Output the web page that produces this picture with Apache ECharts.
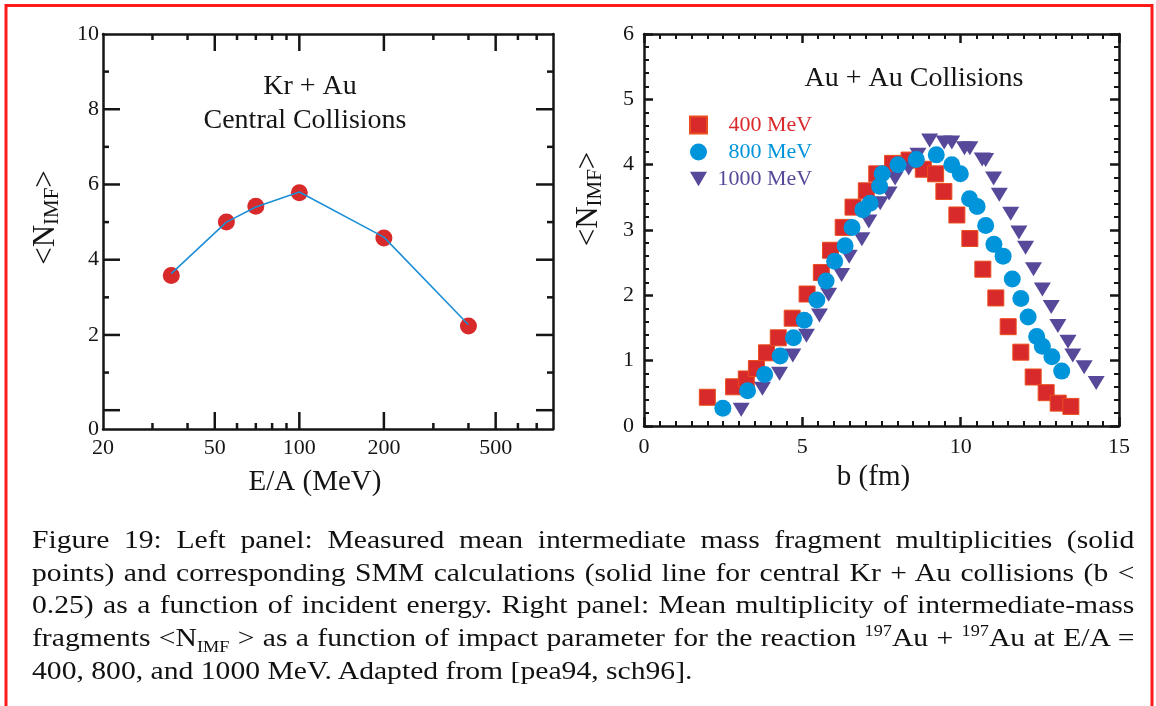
<!DOCTYPE html>
<html><head><meta charset="utf-8">
<script src="https://cdn.jsdelivr.net/npm/echarts@6/dist/echarts.min.js"></script>
<style>
html,body{margin:0;padding:0;background:#fff;}
#chart{position:absolute;left:0;top:0;width:1156px;height:706px;}
#caption{position:absolute;left:32px;top:524px;width:967px;transform:scaleX(1.14);transform-origin:0 0;font-family:'Liberation Serif','Times New Roman',serif;font-size:26px;line-height:32.7px;color:#111;}
#caption .j{text-align:justify;text-align-last:justify;white-space:nowrap;height:32.7px;}
#caption .n{text-align:left;white-space:nowrap;height:32.7px;}
#caption sub,#caption sup{font-size:16px;line-height:0;}
</style>
</head><body>
<div id="chart"></div>
<div id="caption">
<div class="j">Figure 19: Left panel: Measured mean intermediate mass fragment multiplicities (solid</div>
<div class="j">points) and corresponding SMM calculations (solid line for central Kr + Au collisions (b &lt;</div>
<div class="j">0.25) as a function of incident energy. Right panel: Mean multiplicity of intermediate-mass</div>
<div class="j">fragments &lt;N<sub>IMF</sub> &gt; as a function of impact parameter for the reaction <sup>197</sup>Au + <sup>197</sup>Au at E/A =</div>
<div class="n">400, 800, and 1000 MeV. Adapted from [pea94, sch96].</div>
</div>
<script>
// ---- Left panel data (Kr + Au central collisions) ----
const energy = [35, 55, 70, 100, 200, 400];
const measured = [3.58, 5.0, 5.42, 5.78, 4.58, 2.24];
const smmCalc = [3.63, 5.0, 5.40, 5.80, 4.60, 2.27];
const energyLabels = [20, 50, 100, 200, 500];
const energyMajor = [50, 100, 200, 500];
const energyMinor = [30, 40, 60, 70, 80, 90, 300, 400, 600, 700];
const leftYLabels = [-0.5, 2, 4, 6, 8, 10];
const leftYMajor = [0, 2, 4, 6, 8];
const leftYMinor = [1, 3, 5, 7, 9];

// ---- Right panel data (Au + Au collisions) ----
const b400 = [2.0, 2.83, 3.23, 3.55, 3.87, 4.24, 4.68, 5.15, 5.60, 5.89, 6.29, 6.60, 7.02, 7.35, 7.85, 8.37, 8.82, 9.21, 9.47, 9.88, 10.29, 10.70, 11.11, 11.50, 11.90, 12.29, 12.70, 13.08, 13.48];
const n400 = [0.44, 0.60, 0.72, 0.88, 1.12, 1.35, 1.65, 2.02, 2.35, 2.69, 3.04, 3.35, 3.60, 3.86, 4.02, 4.07, 3.93, 3.86, 3.59, 3.23, 2.87, 2.40, 1.96, 1.52, 1.13, 0.75, 0.51, 0.35, 0.30];
const b800 = [2.49, 3.27, 3.81, 4.30, 4.72, 5.06, 5.46, 5.75, 6.02, 6.35, 6.57, 6.91, 7.14, 7.44, 7.52, 8.02, 8.60, 9.23, 9.72, 9.99, 10.28, 10.52, 10.79, 11.05, 11.34, 11.63, 11.90, 12.13, 12.40, 12.58, 12.88, 13.19];
const n800 = [0.27, 0.54, 0.79, 1.07, 1.35, 1.62, 1.93, 2.22, 2.52, 2.76, 3.04, 3.31, 3.41, 3.67, 3.86, 4.00, 4.08, 4.15, 4.00, 3.86, 3.48, 3.36, 3.07, 2.78, 2.60, 2.25, 1.95, 1.67, 1.37, 1.22, 1.06, 0.84];
const b1000 = [3.07, 3.74, 4.28, 4.70, 5.13, 5.54, 5.83, 6.24, 6.48, 6.88, 7.10, 7.46, 7.74, 7.93, 8.36, 8.65, 9.02, 9.48, 9.72, 10.12, 10.29, 10.68, 10.79, 11.04, 11.22, 11.58, 11.84, 12.05, 12.30, 12.58, 12.86, 13.07, 13.39, 13.54, 13.90, 14.28];
const n1000 = [0.25, 0.57, 0.80, 1.08, 1.38, 1.69, 2.01, 2.31, 2.59, 2.86, 3.13, 3.41, 3.56, 3.79, 3.94, 4.15, 4.37, 4.34, 4.34, 4.25, 4.25, 4.08, 4.07, 3.79, 3.54, 3.25, 2.96, 2.73, 2.40, 2.09, 1.82, 1.53, 1.29, 1.08, 0.90, 0.66];
const seriesNames = ['400 MeV', '800 MeV', '1000 MeV'];

const FONT = "'Liberation Serif', 'Times New Roman', serif";
const INK = '#151515';
const RED = '#d8292b', BLUE = '#0094db', PURPLE = '#58489a', LINE = '#1c8fd6';
const pair = (xs, ys) => xs.map((x, i) => [x, ys[i]]);
const lineStyle = {color: INK, width: 2.5};
const tickStyle = {color: INK, width: 2.5};
const E_MIN = 20, E_MAX = 800, LY_MIN = -0.5, LY_MAX = 10;
const MAJOR = 17, MINOR = 6;
const LEFT_GRID = {left: 103, top: 34, width: 450, height: 395};

function logAxis(pos, labels, extra) {
  return Object.assign({
    gridIndex: 0, type: 'log', min: E_MIN, max: E_MAX, position: pos,
    axisLine: {show: true, onZero: false, lineStyle: lineStyle},
    axisTick: {show: false},
    axisLabel: labels ? {show: true, customValues: labels, fontSize: 22, fontFamily: FONT, color: INK, margin: 8} : {show: false},
    splitLine: {show: false}, minorTick: {show: false}, minorSplitLine: {show: false}
  }, extra || {});
}
function leftY(pos, labels, extra) {
  return Object.assign({
    gridIndex: 0, type: 'value', min: LY_MIN, max: LY_MAX, position: pos,
    axisLine: {show: true, onZero: false, lineStyle: lineStyle},
    axisTick: {show: false},
    axisLabel: labels ? {show: true, customValues: labels, fontSize: 22, fontFamily: FONT, color: INK, margin: 4,
      formatter: v => (v < 0 ? '0' : String(v))} : {show: false},
    splitLine: {show: false}
  }, extra || {});
}
function rightX(pos, labels, extra) {
  return Object.assign({
    gridIndex: 1, type: 'value', min: 0, max: 15, interval: 5, position: pos,
    axisLine: {show: true, onZero: false, lineStyle: lineStyle},
    axisTick: {show: true, inside: true, length: 9, lineStyle: tickStyle},
    minorTick: {show: true, splitNumber: 10, length: 5, lineStyle: {color: INK, width: 2}},
    axisLabel: labels ? {show: true, fontSize: 22, fontFamily: FONT, color: INK, margin: 10} : {show: false},
    splitLine: {show: false}
  }, extra || {});
}
function rightY(pos, labels, extra) {
  return Object.assign({
    gridIndex: 1, type: 'value', min: 0, max: 6, interval: 1, position: pos,
    axisLine: {show: true, onZero: false, lineStyle: lineStyle},
    axisTick: {show: true, inside: true, length: 9, lineStyle: tickStyle},
    minorTick: {show: true, splitNumber: 5, length: 5, lineStyle: {color: INK, width: 2}},
    axisLabel: labels ? {show: true, fontSize: 22, fontFamily: FONT, color: INK, margin: 10} : {show: false},
    splitLine: {show: false}
  }, extra || {});
}
const nameRich = {s: {fontSize: 21, fontFamily: FONT, color: INK, padding: [13, 0, 0, 0]}};

const baseGraphics = [
  {type: 'rect', id: 'border', z: 100, silent: true, shape: {x: 6, y: 5.5, width: 1146, height: 760},
    style: {fill: 'none', stroke: '#ff1a1a', lineWidth: 3}},
  {type: 'text', id: 't1', x: 310, y: 87, style: {text: 'Kr + Au', fontSize: 28, fontFamily: FONT, fill: INK, align: 'center', verticalAlign: 'middle'}},
  {type: 'text', id: 't2', x: 305, y: 121, style: {text: 'Central Collisions', fontSize: 28, fontFamily: FONT, fill: INK, align: 'center', verticalAlign: 'middle'}},
  {type: 'text', id: 't3', x: 914, y: 79, style: {text: 'Au + Au Collisions', fontSize: 28, fontFamily: FONT, fill: INK, align: 'center', verticalAlign: 'middle'}}
];

const option = {
  animation: false,
  backgroundColor: '#ffffff',
  grid: [
    LEFT_GRID,
    {left: 644, top: 34, width: 475, height: 392}
  ],
  xAxis: [
    logAxis('bottom', energyLabels, {
      name: 'E/A (MeV)', nameLocation: 'middle', nameGap: 39,
      nameTextStyle: {fontSize: 29, fontFamily: FONT, color: INK, padding: [0, 26, 0, 0]}
    }),
    logAxis('top', null),
    rightX('bottom', true, {
      name: 'b (fm)', nameLocation: 'middle', nameGap: 33,
      nameTextStyle: {fontSize: 29, fontFamily: FONT, color: INK, padding: [0, 16, 0, 0]}
    }),
    rightX('top', false)
  ],
  yAxis: [
    leftY('left', leftYLabels, {
      name: '<N{s|IMF}>', nameLocation: 'middle', nameGap: 40, nameRotate: 90,
      nameTextStyle: {fontSize: 31, fontFamily: FONT, color: INK, rich: nameRich, padding: [0, 0, 0, 28]}
    }),
    leftY('right', null),
    rightY('left', true, {
      name: '<N{s|IMF}>', nameLocation: 'middle', nameGap: 38, nameRotate: 90,
      nameTextStyle: {fontSize: 31, fontFamily: FONT, color: INK, rich: nameRich, padding: [0, 0, 0, 62]}
    }),
    rightY('right', false)
  ],
  legend: {
    orient: 'vertical', left: 684, top: 109, itemWidth: 17, itemHeight: 17, itemGap: 5,
    selectedMode: false,
    textStyle: {fontSize: 22, fontFamily: FONT},
    formatter: n => (n === '1000 MeV' ? ' ' : '   ') + n,
    data: [
      {name: seriesNames[0], textStyle: {color: RED}},
      {name: seriesNames[1], textStyle: {color: BLUE}},
      {name: seriesNames[2], icon: 'path://M0,0 L20,0 L10,17 Z', textStyle: {color: PURPLE}}
    ]
  },
  series: [
    {type: 'scatter', name: 'measured', xAxisIndex: 0, yAxisIndex: 0, symbol: 'circle', symbolSize: 17,
      itemStyle: {color: RED, opacity: 1}, data: pair(energy, measured), z: 3},
    {type: 'line', name: 'SMM', xAxisIndex: 0, yAxisIndex: 0, showSymbol: false, symbol: 'none',
      lineStyle: {color: LINE, width: 1.6}, data: pair(energy, smmCalc), z: 5},
    {type: 'scatter', name: seriesNames[0], xAxisIndex: 2, yAxisIndex: 2, symbol: 'rect', symbolSize: 16,
      itemStyle: {color: RED, borderColor: '#ea4d1e', borderWidth: 1, opacity: 1}, data: pair(b400, n400), z: 3},
    {type: 'scatter', name: seriesNames[2], xAxisIndex: 2, yAxisIndex: 2, symbol: 'triangle', symbolRotate: 180,
      symbolSize: [17, 14], itemStyle: {color: PURPLE, opacity: 1}, data: pair(b1000, n1000), z: 4},
    {type: 'scatter', name: seriesNames[1], xAxisIndex: 2, yAxisIndex: 2, symbol: 'circle', symbolSize: 17,
      itemStyle: {color: BLUE, opacity: 1}, data: pair(b800, n800), z: 5}
  ],
  graphic: baseGraphics
};
const chart = echarts.init(document.getElementById('chart'));
chart.setOption(option);

// Left-panel tick marks, placed through the panel's own log / value scales (inward on all four sides)
function addLeftTicks() {
  const num = r => (Array.isArray(r) ? r[0] : r);
  const px = v => Number(num(chart.convertToPixel({xAxisIndex: 0}, v)));
  const py = v => Number(chart.convertToPixel({yAxisIndex: 0}, v));
  const ok = n => typeof n === 'number' && isFinite(n);
  // edges of the left frame derived from interior scale positions (linear y axis)
  const y0 = py(0), y1 = py(1), y8 = py(8), y9 = py(9);
  let yb = y0 + (y0 - y1) * 0.5;
  let yt = y9 + (y9 - y8);
  if (!ok(yb)) yb = LEFT_GRID.top + LEFT_GRID.height;
  if (!ok(yt)) yt = LEFT_GRID.top;
  let xl = px(E_MIN), xr = px(E_MAX);
  if (!ok(xl)) xl = LEFT_GRID.left;
  if (!ok(xr)) xr = LEFT_GRID.left + LEFT_GRID.width;
  const st = {stroke: INK, lineWidth: 2.5};
  const els = [];
  let k = 0;
  const addX = (v, len) => {
    let x = px(v);
    if (!ok(x)) x = xl + (xr - xl) * Math.log(v / E_MIN) / Math.log(E_MAX / E_MIN);
    els.push({type: 'line', id: 'tk' + (k++), z: 150, silent: true, shape: {x1: x, y1: yb, x2: x, y2: yb - len}, style: st});
    els.push({type: 'line', id: 'tk' + (k++), z: 150, silent: true, shape: {x1: x, y1: yt, x2: x, y2: yt + len}, style: st});
  };
  const addY = (v, len) => {
    const y = py(v);
    if (!ok(y)) return;
    els.push({type: 'line', id: 'tk' + (k++), z: 150, silent: true, shape: {x1: xl, y1: y, x2: xl + len, y2: y}, style: st});
    els.push({type: 'line', id: 'tk' + (k++), z: 150, silent: true, shape: {x1: xr, y1: y, x2: xr - len, y2: y}, style: st});
  };
  energyMajor.forEach(v => addX(v, MAJOR));
  energyMinor.forEach(v => addX(v, MINOR));
  leftYMajor.forEach(v => addY(v, MAJOR));
  leftYMinor.forEach(v => addY(v, MINOR));
  chart.setOption({graphic: baseGraphics.concat(els)});
}
addLeftTicks();
</script>
</body></html>
